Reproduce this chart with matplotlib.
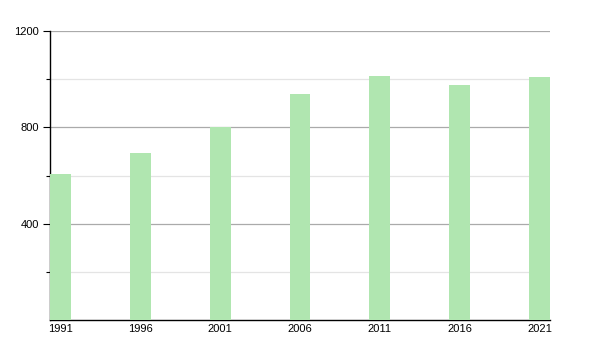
import matplotlib
matplotlib.use("Agg")
import matplotlib.pyplot as plt
from matplotlib.ticker import MultipleLocator, FixedLocator

years = [1991, 1996, 2001, 2006, 2011, 2016, 2021]
population = [608, 693, 802, 938, 1012, 976, 1008]
ytick_labels = ["400", "800", "1200"]

plt.rcParams['font.family'] = ['Liberation Sans', 'DejaVu Sans']

fig = plt.figure(figsize=(6, 3.5), dpi=100)
ax = fig.add_axes([50/600, 30/350, 500/600, 289/350])

ax.bar(years, population, width=1.3, color="#b0e6b0", zorder=3)

ax.set_xlim(1991 - 0.65, 2021 + 0.65)
ax.set_ylim(0, 1200)
ax.set_xticks(years)
ax.set_xticklabels([str(y) for y in years])
ax.yaxis.set_major_locator(FixedLocator([400, 800, 1200]))
ax.set_yticklabels(ytick_labels)
ax.yaxis.set_minor_locator(FixedLocator([200, 600, 1000]))

ax.grid(axis='y', which='major', color='#aaaaaa', linewidth=0.9, zorder=0)
ax.grid(axis='y', which='minor', color='#e4e4e4', linewidth=0.9, zorder=0)

for s in ['top', 'right']:
    ax.spines[s].set_visible(False)
ax.spines['left'].set_linewidth(1.0)
ax.spines['bottom'].set_linewidth(1.0)

ax.tick_params(axis='x', length=0, pad=3, labelsize=8)
ax.tick_params(axis='y', which='major', length=5, width=0.8, labelsize=8, pad=3)
ax.tick_params(axis='y', which='minor', length=3, width=0.8)

fig.savefig("out.png", dpi=100)
